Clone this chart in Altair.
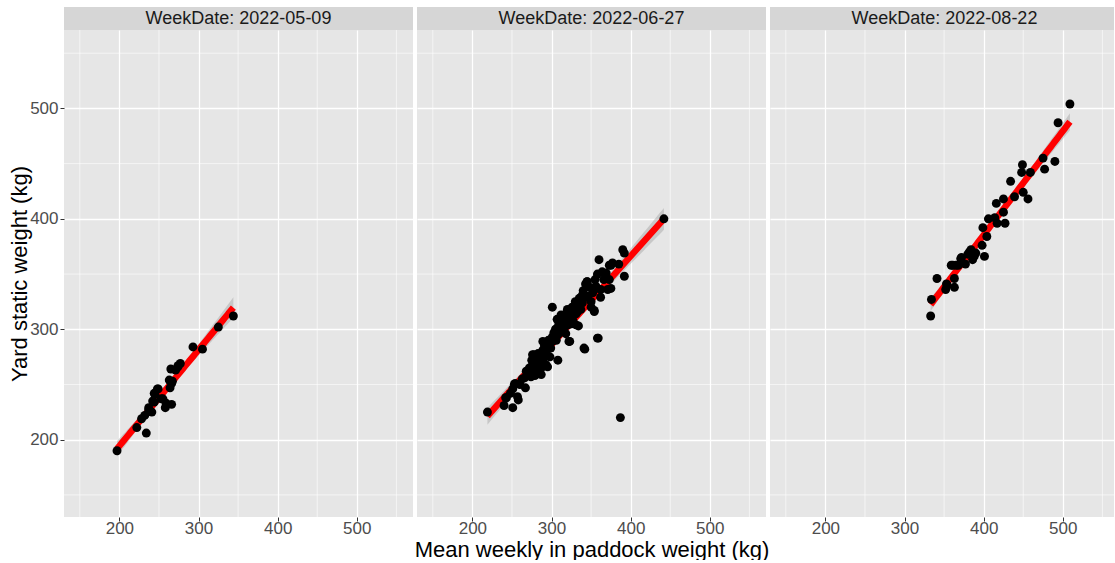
import altair as alt
import numpy as np
import pandas as pd

# Weigh dates shown as facets
week_dates = ["2022-05-09", "2022-06-27", "2022-08-22"]

# Mean weekly in-paddock weight (kg) vs. yard static weight (kg), one pair of lists per week
paddock_0509 = [197, 222, 234, 228, 232, 237, 241, 242, 244, 245, 248, 253, 255, 258, 259,
                266, 264, 263, 267, 265, 271, 274, 277, 293, 305, 325, 344, 244, 249, 266,
                274, 237]
yard_0509 = [190, 211, 206, 219, 222, 227, 225, 235, 242, 241, 246, 237, 237, 229, 233,
             232, 247, 254, 253, 264, 263, 267, 269, 284, 282, 302, 312, 234, 246, 251,
             266, 229]

paddock_0627 = [219, 387, 442, 240, 243, 251, 253, 257, 258, 267, 268, 274, 278, 280, 285,
                287, 289, 293, 295, 298, 289, 301, 308, 306, 310, 314, 318, 323, 325, 331,
                334, 342, 339, 343, 345, 350, 354, 359, 356, 362, 360, 371, 375, 369, 373,
                377, 385, 392, 373, 390, 392, 242, 251, 254, 266, 272, 278, 276, 280, 276,
                285, 287, 297, 293, 301, 322, 341, 343, 356, 362, 339, 350, 337, 354, 333,
                318, 314, 327, 331, 316, 308, 301, 293, 358, 289, 345, 375, 272, 275, 279,
                282, 283, 286, 290, 291, 294, 296, 299, 303, 305, 307, 309, 311, 312, 315,
                317, 320, 321, 324, 326, 328, 330, 332, 335, 337, 340, 346, 348, 352, 355,
                358, 364, 366, 281, 284, 277, 270, 263, 260, 248]
yard_0627 = [225, 220, 400, 231, 238, 229, 250, 239, 236, 247, 262, 257, 277, 269, 263,
             259, 272, 280, 266, 275, 289, 320, 272, 290, 302, 311, 296, 289, 305, 314,
             303, 282, 324, 329, 343, 320, 317, 292, 337, 329, 363, 336, 337, 351, 358,
             360, 359, 348, 345, 372, 369, 238, 246, 251, 256, 259, 263, 268, 275, 277,
             271, 265, 286, 268, 293, 289, 283, 341, 339, 336, 331, 325, 325, 316, 316,
             314, 308, 308, 304, 301, 295, 289, 286, 292, 281, 343, 358, 265, 272, 258,
             267, 278, 274, 277, 285, 281, 290, 283, 297, 300, 309, 304, 298, 313, 306,
             310, 318, 304, 312, 320, 315, 325, 320, 328, 318, 335, 330, 338, 333, 345,
             350, 352, 345, 272, 260, 270, 262, 255, 250, 242]

paddock_0822 = [509, 494, 490, 477, 475, 459, 449, 448, 434, 439, 450, 456, 425, 416, 425,
                406, 414, 417, 427, 399, 404, 398, 401, 384, 390, 386, 372, 377, 361, 368,
                341, 363, 353, 352, 363, 334, 333, 382, 380, 365, 388, 371, 359, 354]
yard_0822 = [504, 487, 452, 445, 455, 442, 449, 442, 434, 420, 424, 418, 418, 414, 406,
             400, 401, 396, 396, 392, 384, 376, 366, 372, 369, 363, 365, 359, 358, 358,
             346, 346, 341, 336, 338, 327, 312, 370, 368, 358, 366, 364, 358, 340]

major_ticks = [200, 300, 400, 500]
minor_ticks = [150, 250, 350, 450, 550]

FONT = "Liberation Sans"
PANEL_H = 487
Y_DOMAIN = [130, 571]
X_MIN = 130
PX_PER_KG = 349 / 441.0


def fit_with_band(xs, ys, steps=80):
    """Ordinary least squares line with a 95% confidence band (like geom_smooth(method='lm'))."""
    x = np.asarray(xs, float)
    y = np.asarray(ys, float)
    n = len(x)
    slope, icpt = np.polyfit(x, y, 1)
    resid = y - (slope * x + icpt)
    s = np.sqrt((resid ** 2).sum() / (n - 2))
    sxx = ((x - x.mean()) ** 2).sum()
    gx = np.linspace(x.min(), x.max(), steps)
    fit = slope * gx + icpt
    se = s * np.sqrt(1.0 / n + (gx - x.mean()) ** 2 / sxx)
    return pd.DataFrame({"paddock": gx, "fit": fit, "lo": fit - 1.98 * se, "hi": fit + 1.98 * se})


def panel(date, xs, ys, width, show_y, show_xtitle):
    x_scale = alt.Scale(domain=[X_MIN, X_MIN + width / PX_PER_KG], nice=False, zero=False)
    y_scale = alt.Scale(domain=Y_DOMAIN, nice=False, zero=False)

    x_axis = alt.Axis(values=major_ticks, grid=True, domain=False, tickSize=4,
                      labelPadding=-1, titlePadding=3)
    if show_y:
        y_axis = alt.Axis(values=major_ticks, grid=True, domain=False, tickSize=4,
                          labelPadding=2, titlePadding=-2)
    else:
        y_axis = alt.Axis(values=major_ticks, grid=True, domain=False, ticks=False,
                          labels=False)

    x_title = "Mean weekly in paddock weight (kg)" if show_xtitle else None
    y_title = "Yard static weight (kg)" if show_y else None

    def X(field):
        return alt.X(field, type="quantitative", scale=x_scale, axis=x_axis, title=x_title)

    def Y(field):
        return alt.Y(field, type="quantitative", scale=y_scale, axis=y_axis, title=y_title)

    pts = pd.DataFrame({"paddock": xs, "yard": ys})
    band = fit_with_band(xs, ys)
    minor = pd.DataFrame({"v": minor_ticks})
    strip = pd.DataFrame({"label": ["WeekDate: " + date]})

    minor_x = alt.Chart(minor).mark_rule(color="white", strokeWidth=0.6).encode(x=X("v"))
    minor_y = alt.Chart(minor).mark_rule(color="white", strokeWidth=0.6).encode(y=Y("v"))

    ci = alt.Chart(band).mark_area(color="#999999", opacity=0.4).encode(
        x=X("paddock"), y=Y("lo"), y2="hi")
    line = alt.Chart(band).mark_line(color="#FF0000", strokeWidth=6.5, strokeCap="butt").encode(
        x=X("paddock"), y=Y("fit"))
    dots = alt.Chart(pts).mark_circle(color="black", size=80, opacity=1).encode(
        x=X("paddock"), y=Y("yard"))

    strip_bg = alt.Chart(strip).mark_rect(color="#D6D6D6").encode(
        x=alt.value(0), x2=alt.value(width), y=alt.value(-23), y2=alt.value(0))
    full_w = 349
    strip_txt = alt.Chart(strip).mark_text(
        font=FONT, fontSize=18, color="#1A1A1A", baseline="middle", align="center"
    ).encode(text="label:N", x=alt.value(full_w / 2), y=alt.value(-11.5))

    return alt.layer(minor_x, minor_y, ci, line, dots, strip_bg, strip_txt).properties(
        width=width, height=PANEL_H)


p1 = panel(week_dates[0], paddock_0509, yard_0509, 349, True, False)
p2 = panel(week_dates[1], paddock_0627, yard_0627, 349, False, True)
p3 = panel(week_dates[2], paddock_0822, yard_0822, 344, False, False)

chart = alt.hconcat(p1, p2, p3, spacing=4, bounds="flush").properties(
    padding={"left": 8, "top": 7, "right": 0, "bottom": 0},
    background="white",
).configure_view(
    fill="#E6E6E6", strokeWidth=0
).configure_axis(
    labelFont=FONT, labelFontSize=17, labelColor="#4D4D4D",
    titleFont=FONT, titleFontSize=22, titleFontWeight="normal", titleColor="black",
    tickColor="#333333", gridColor="white", gridWidth=1.3,
)

chart.save("out.html", embed_options={"renderer": "svg", "actions": False})
